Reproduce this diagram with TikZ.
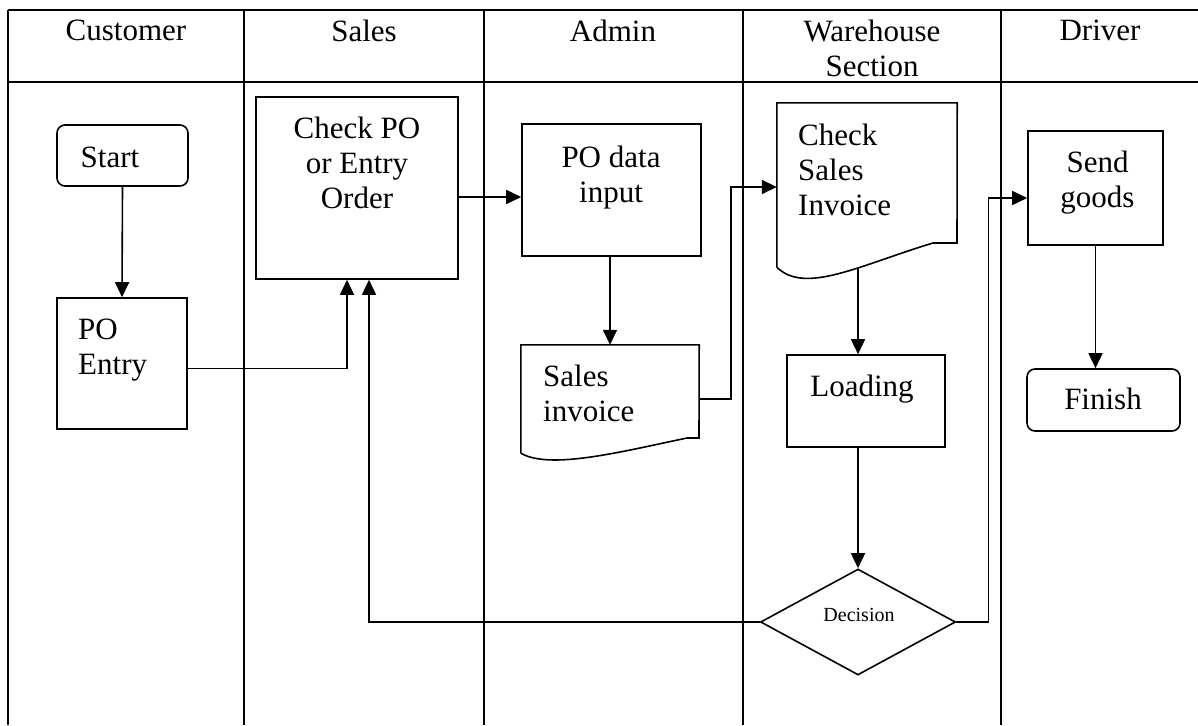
\documentclass[tikz,border=0pt]{standalone}
\usepackage{fontspec}
\setmainfont{Liberation Serif}
\usetikzlibrary{arrows.meta,shapes.geometric}

\begin{document}
\begin{tikzpicture}[x=1pt,y=-1pt]
\tikzstyle{lane}=[line width=1.8pt]
\tikzstyle{box}=[draw,line width=1.6pt,inner sep=0pt]
\tikzstyle{term}=[box,rounded corners=8pt]
\tikzstyle{txt}=[inner sep=0pt,font=\fontsize{31}{35}\selectfont]
\tikzstyle{flow}=[line width=1.6pt,-{Triangle[length=15pt,width=14pt]}]

\useasboundingbox (0,0) rectangle (1198,725);
% swimlanes
\draw[lane] (8,10) -- (1198,10);
\draw[lane] (8,82) -- (1198,82);
\foreach \x in {8,244,484,743,1001} \draw[lane] (\x,10) -- (\x,725);

\node[txt,anchor=north] (hcust) at (126,20) {Customer};
\node[txt,anchor=north] (hsales) at (364,20) {Sales};
\node[txt,anchor=north] (hadmin) at (613,20) {Admin};
\node[txt,anchor=north,align=center] (hware) at (872,20) {Warehouse\\Section};
\node[txt,anchor=north] (hdriver) at (1100,20) {Driver};

% customer
\node[term,minimum width=131,minimum height=61] (start) at (122.5,155.5) {};
\node[txt,anchor=base] (startT) at (110,167) {Start};
\node[box,minimum width=130,minimum height=131] (poentry) at (122,363.5) {};
\node[txt,anchor=north west,align=left] (poentryT) at (78,319) {PO\\Entry};

% sales
\node[box,minimum width=202,minimum height=182] (checkpo) at (357,188) {};
\node[txt,anchor=north,align=center] (checkpoT) at (357,117) {Check PO\\or Entry\\Order};

% admin
\node[box,minimum width=179,minimum height=132] (podata) at (611.5,190) {};
\node[txt,anchor=north,align=center] (podataT) at (611,146) {PO data\\input};
\node[inner sep=0pt,minimum width=178,minimum height=108] (salesinv) at (610,399) {};
\draw[line width=1.6pt] (salesinv.south west) -- (salesinv.north west) -- (salesinv.north east)
  -- (699,438) -- (687,438) .. controls (620,452) and (550,470) .. (salesinv.south west);
\node[txt,anchor=north west,align=left] (salesinvT) at (543,365) {Sales\\invoice};

% warehouse
\node[inner sep=0pt,minimum width=180,minimum height=164] (csinv) at (867,185) {};
\draw[line width=1.6pt] (csinv.south west) -- (csinv.north west) -- (csinv.north east)
  -- (957,243) -- (933,243) .. controls (860,265) and (805,295) .. (csinv.south west);
\node[txt,anchor=north west,align=left] (csinvT) at (798,124) {Check\\Sales\\Invoice};
\node[box,minimum width=158,minimum height=92] (loading) at (866,401) {};
\node[txt,anchor=base] (loadingT) at (862,396) {Loading};
\node[box,diamond,minimum width=195,minimum height=106] (decision) at (858,622) {};
\node[anchor=base,inner sep=0pt,font=\fontsize{20}{24}\selectfont] (decisionT) at (859,621) {Decision};

% driver
\node[box,minimum width=135,minimum height=114] (sendgoods) at (1095.5,188) {};
\node[txt,anchor=north,align=center] (sendgoodsT) at (1097.5,151) {Send\\goods};
\node[term,minimum width=153,minimum height=62] (finish) at (1103.5,400) {};
\node[txt,anchor=base] (finishT) at (1103,409) {Finish};

% flow
\draw[flow] (start.south) -- (poentry.north);
\draw[flow] ([yshift=-5pt]poentry.east) -| ([xshift=-10pt]checkpo.south);
\draw[flow] ([yshift=-9pt]checkpo.east) -- ([yshift=-9pt]checkpo.east -| podata.west);
\draw[flow] (podata.south -| salesinv.north) -- (salesinv.north);
\draw[flow] (salesinv.east) -- ++(32,0) |- ([yshift=-2pt]csinv.west);
\draw[flow] (csinv.south -| decision.north) -- (loading.north -| decision.north);
\draw[flow] (loading.south -| decision.north) -- (decision.north);
\draw[flow] (decision.west) -| ([xshift=12pt]checkpo.south);
\draw[flow] (decision.east) -- ++(32,0) |- ([yshift=-10pt]sendgoods.west);
\draw[flow] (sendgoods.south) -- (sendgoods.south |- finish.north);
\end{tikzpicture}
\end{document}
